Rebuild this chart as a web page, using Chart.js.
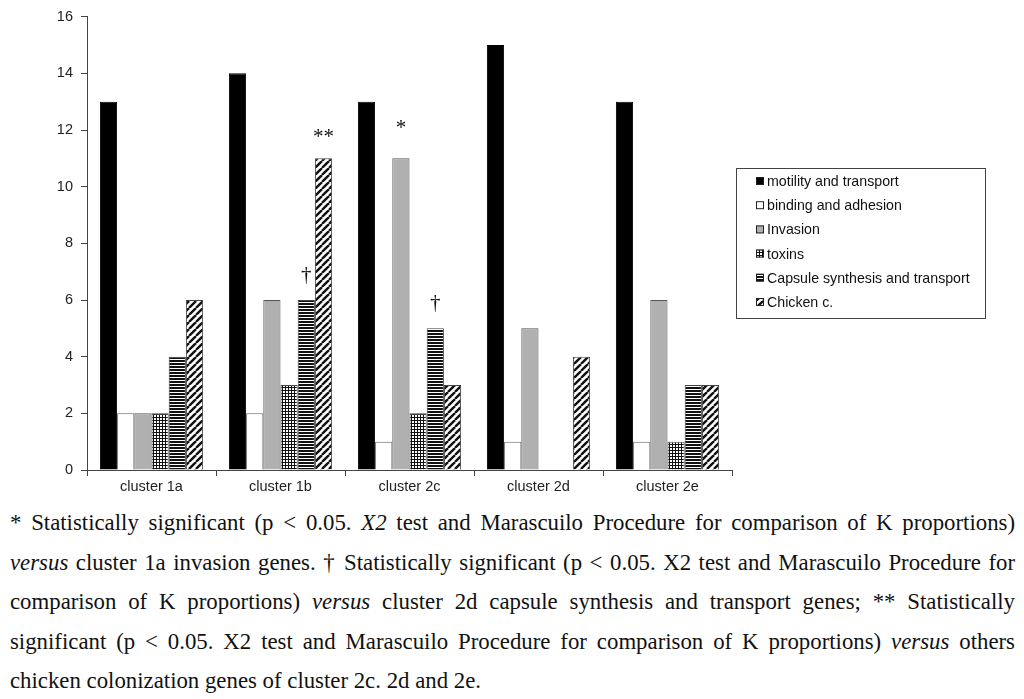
<!DOCTYPE html>
<html>
<head>
<meta charset="utf-8">
<script src="https://cdn.jsdelivr.net/npm/chart.js@4.4.1/dist/chart.umd.min.js"></script>
<style>
    body { margin: 0; background: #fff; }
    #wrap { position: relative; width: 1024px; height: 500px; }
    .note {
        margin-top: 3px;
        margin-left: 10px;
        width: 1005px;
        font-family: "Liberation Serif", "Times New Roman", serif;
        font-size: 22.8px;
        line-height: 39.5px;
        color: #111;
    }
    .note .j { text-align: justify; text-align-last: justify; white-space: nowrap; }
</style>
</head>
<body>
<div id="wrap"><canvas id="genesChart"></canvas></div>
<div class="note">
    <div class="j">* Statistically significant (p &lt; 0.05. <i>X2</i> test and Marascuilo Procedure for comparison of K proportions)</div>
    <div class="j"><i>versus</i> cluster 1a invasion genes. † Statistically significant (p &lt; 0.05. X2 test and Marascuilo Procedure for</div>
    <div class="j">comparison of K proportions) <i>versus</i> cluster 2d capsule synthesis and transport genes; ** Statistically</div>
    <div class="j">significant (p &lt; 0.05. X2 test and Marascuilo Procedure for comparison of K proportions) <i>versus</i> others</div>
    <div>chicken colonization genes of cluster 2c. 2d and 2e.</div>
</div>
<script>
// Datos
const categorias = ['cluster 1a', 'cluster 1b', 'cluster 2c', 'cluster 2d', 'cluster 2e'];
const motilidad = [13, 14, 13, 15, 13];
const adhesion = [2, 2, 1, 1, 1];
const invasion = [2, 6, 11, 5, 6];
const toxinas = [2, 3, 2, 0, 1];
const capsula = [4, 6, 5, 0, 3];
const pollo = [6, 11, 3, 4, 3];
const etiquetasSeries = [
    'motility and transport',
    'binding and adhesion',
    'Invasion',
    'toxins',
    'Capsule synthesis and transport',
    'Chicken c.'
];
const yTicks = [0, 2, 4, 6, 8, 10, 12, 14, 16];
// marcas de significancia: categoría, serie, símbolo
const marcas = [
    { cat: 1, serie: 4, texto: '†' },
    { cat: 1, serie: 5, texto: '**' },
    { cat: 2, serie: 2, texto: '*' },
    { cat: 2, serie: 4, texto: '†' }
];

/**
 * Crear patrones de relleno tipo Excel
 */
function crearPatron(tipo) {
    const c = document.createElement('canvas');
    const p = c.getContext('2d');
    if (tipo === 'grid') {
        c.width = 3; c.height = 3;
        p.fillStyle = '#fff'; p.fillRect(0, 0, 3, 3);
        p.fillStyle = '#111';
        p.fillRect(0, 0, 3, 1);
        p.fillRect(0, 0, 1, 3);
    } else if (tipo === 'horiz') {
        c.width = 4; c.height = 3;
        p.fillStyle = '#fff'; p.fillRect(0, 0, 4, 3);
        p.fillStyle = '#111'; p.fillRect(0, 0, 4, 2);
    } else {
        c.width = 7; c.height = 7;
        p.fillStyle = '#fff'; p.fillRect(0, 0, 7, 7);
        p.strokeStyle = '#111';
        p.lineWidth = 2.4;
        for (let k = -7; k <= 14; k += 7) {
            p.beginPath();
            p.moveTo(k, 7);
            p.lineTo(k + 7, 0);
            p.stroke();
        }
    }
    return p.createPattern(c, 'repeat');
}

const ctxTmp = document.getElementById('genesChart').getContext('2d');
const fondos = ['#000000', '#ffffff', '#b0b0b0', crearPatron('grid'), crearPatron('horiz'), crearPatron('diag')];
const bordes = ['#000000', '#666666', '#555555', '#444444', '#444444', '#444444'];
const valores = [motilidad, adhesion, invasion, toxinas, capsula, pollo];

const datasets = valores.map((v, i) => ({
    label: etiquetasSeries[i],
    data: v,
    backgroundColor: fondos[i],
    borderColor: bordes[i],
    borderWidth: 1,
    categoryPercentage: 0.8,
    barPercentage: 1.0
}));

// leyenda con recuadro y marcas de significancia
const pluginExtras = {
    id: 'extras',
    afterDraw(chart) {
        const ctx = chart.ctx;
        ctx.save();
        // marcas
        ctx.fillStyle = '#111';
        ctx.textAlign = 'center';
        ctx.textBaseline = 'alphabetic';
        ctx.font = '21px "Liberation Serif", serif';
        marcas.forEach(m => {
            const bar = chart.getDatasetMeta(m.serie).data[m.cat];
            const off = m.texto === '†' ? 19 : (m.texto === '**' ? 15 : 24);
            ctx.fillText(m.texto, bar.x, bar.y - off);
        });
        // leyenda
        const lx = 736.5, ly = 168.5, lw = 249, lh = 150;
        ctx.strokeStyle = '#444';
        ctx.lineWidth = 1;
        ctx.strokeRect(lx, ly, lw, lh);
        ctx.font = '14.2px "Liberation Sans", Arial, sans-serif';
        ctx.textAlign = 'left';
        ctx.textBaseline = 'middle';
        etiquetasSeries.forEach((lab, i) => {
            const y = 181 + i * 24.2;
            ctx.fillStyle = fondos[i];
            ctx.fillRect(756, y - 4, 8, 8);
            ctx.strokeStyle = '#222';
            ctx.strokeRect(756.5, y - 3.5, 7, 7);
            ctx.fillStyle = '#111';
            ctx.fillText(lab, 767, y + 1);
        });
        ctx.restore();
    }
};

new Chart(ctxTmp, {
    type: 'bar',
    data: { labels: categorias, datasets: datasets },
    options: {
        responsive: true,
        maintainAspectRatio: false,
        animation: false,
        layout: { padding: { top: 15, right: 292, left: 0, bottom: 0 } },
        scales: {
            x: {
                grid: { display: true, drawOnChartArea: false, color: '#444', tickLength: 6 },
                border: { color: '#444', width: 1 },
                ticks: { color: '#222', font: { family: '"Liberation Sans", Arial, sans-serif', size: 14.5 }, padding: 2 },
                afterFit(scale) { scale.height = 30; }
            },
            y: {
                min: 0,
                max: 16,
                afterBuildTicks(scale) { scale.ticks = yTicks.map(v => ({ value: v })); },
                grid: { display: true, drawOnChartArea: false, color: '#444', tickLength: 6 },
                border: { color: '#444', width: 1 },
                ticks: { color: '#222', font: { family: '"Liberation Sans", Arial, sans-serif', size: 14.5 }, padding: 8 },
                afterFit(scale) { scale.width = 87; }
            }
        },
        plugins: {
            legend: { display: false },
            tooltip: { enabled: false }
        }
    },
    plugins: [pluginExtras]
});
</script>
</body>
</html>
